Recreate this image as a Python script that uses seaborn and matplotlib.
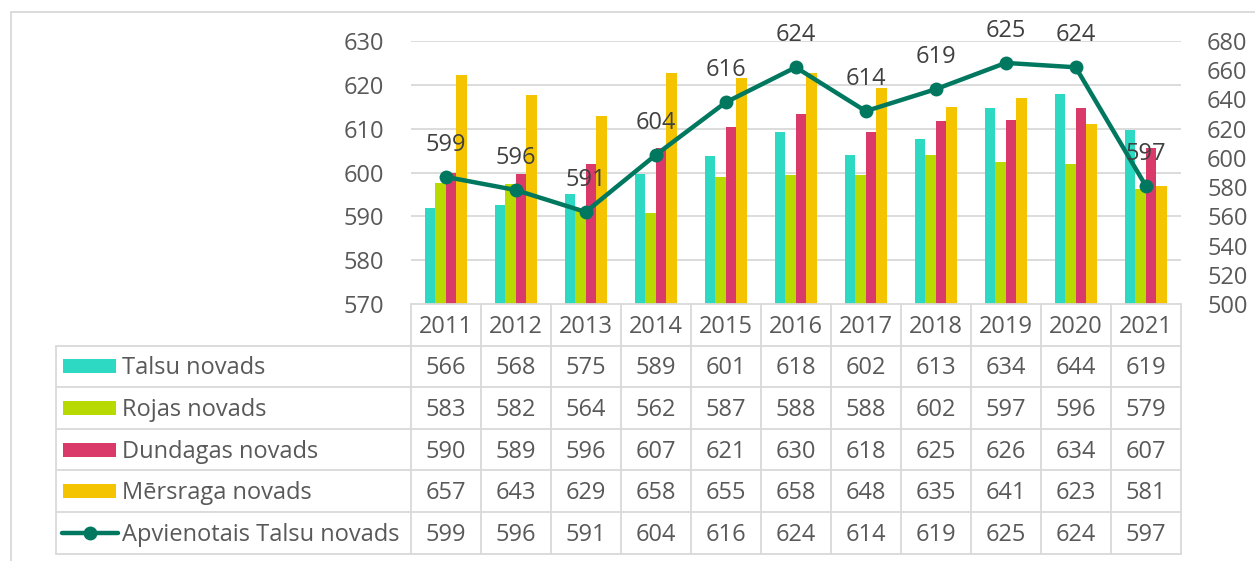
import matplotlib.pyplot as plt
import matplotlib.transforms as mtransforms
from matplotlib.lines import Line2D
from matplotlib.patches import Rectangle
import numpy as np
import pandas as pd
import seaborn as sns

years = ['2011', '2012', '2013', '2014', '2015', '2016', '2017', '2018', '2019', '2020', '2021']
talsu = [566, 568, 575, 589, 601, 618, 602, 613, 634, 644, 619]
rojas = [583, 582, 564, 562, 587, 588, 588, 602, 597, 596, 579]
dundagas = [590, 589, 596, 607, 621, 630, 618, 625, 626, 634, 607]
mersraga = [657, 643, 629, 658, 655, 658, 648, 635, 641, 623, 581]
apvienotais = [599, 596, 591, 604, 616, 624, 614, 619, 625, 624, 597]

bar_names = ['Talsu novads', 'Rojas novads', 'Dundagas novads', 'Mērsraga novads']
line_name = 'Apvienotais Talsu novads'
bar_colors = ['#2ED9C3', '#B8DA00', '#DA3A6A', '#F5C400']
line_color = '#007860'
grid_color = '#D9D9D9'
text_color = '#595959'

sns.set_style('white')
plt.rcParams['font.family'] = ['Open Sans', 'DejaVu Sans']
plt.rcParams['font.size'] = 17

df = pd.DataFrame({
    'year': years * 4,
    'value': talsu + rojas + dundagas + mersraga,
    'region': np.repeat(bar_names, len(years)),
})

fig = plt.figure(figsize=(12.55, 5.61), dpi=100)
ax = fig.add_axes([410.7 / 1255, 1 - 304 / 561, 770 / 1255, 263 / 561])
ax.patch.set_visible(False)

# bars live on the right-hand axis (500..680)
sns.barplot(data=df, x='year', y='value', hue='region', palette=bar_colors,
            width=0.6, saturation=1, linewidth=0, legend=False, ax=ax)
ax.set_xlim(-0.5, len(years) - 0.5)
ax.set_ylim(500, 680)
ax.set_yticks(range(500, 681, 20))
ax.set_xlabel('')
ax.set_ylabel('')
ax.set_xticks([])

# line lives on the left-hand axis (570..630), drawn on top of the bars
ax2 = ax.twinx()
xpos = np.arange(len(years))
sns.lineplot(x=xpos, y=apvienotais, ax=ax2, color=line_color, linewidth=3.2,
             marker='o', markersize=10, markeredgewidth=0)
ax2.set_ylim(570, 630)
ax2.set_yticks(range(570, 631, 10))
ax2.set_ylabel('')
# swap sides: twinx puts the first axis on the left
ax.yaxis.tick_right()
ax2.yaxis.tick_left()

for a in (ax, ax2):
    a.tick_params(axis='y', length=0, pad=19, labelcolor=text_color, labelsize=17)
    for s in a.spines.values():
        s.set_visible(False)

# gridlines follow the left axis but sit behind the bars
gtrans = mtransforms.blended_transform_factory(ax.transAxes, ax2.transData)
for t in range(580, 631, 10):
    ax.plot([0, 1], [t, t], transform=gtrans, color=grid_color, lw=1.3, zorder=0.5)

# value labels above the line points
for x, v in zip(xpos, apvienotais):
    ax2.annotate(str(v), (x, v), xytext=(0, 23), textcoords='offset points',
                 ha='center', va='center', color='#404040', fontsize=17)

# data table under the plot
h = 41.6 / 263
left = (56 - 410.7) / 770
n_rows = 5
bottom = -h * (n_rows + 1)
nudge = 2 / 263
tx = mtransforms.blended_transform_factory(ax.transData, ax.transAxes)
ta = ax2.transAxes
lkw = dict(color=grid_color, lw=1.3, clip_on=False)

ax2.plot([0, 1], [0, 0], transform=ta, **lkw)
for r in range(1, n_rows + 2):
    ax2.plot([left, 1], [-h * r, -h * r], transform=ta, **lkw)
for i in range(len(years) + 1):
    ax2.plot([i - 0.5, i - 0.5], [0, bottom], transform=tx, **lkw)
ax2.plot([left, left], [-h, bottom], transform=ta, **lkw)

for i, y in enumerate(years):
    ax2.text(i, -h / 2 - nudge, y, transform=tx, ha='center', va='center',
             color=text_color, fontsize=17, clip_on=False)

rows = [talsu, rojas, dundagas, mersraga, apvienotais]
names = bar_names + [line_name]
for r, (name, vals) in enumerate(zip(names, rows)):
    yc = -h * (r + 1.5)
    for i, v in enumerate(vals):
        ax2.text(i, yc - nudge, str(v), transform=tx, ha='center', va='center',
                 color=text_color, fontsize=17, clip_on=False)
    ax2.text((122 - 410.7) / 770, yc - nudge, name, transform=ta, ha='left', va='center',
             color=text_color, fontsize=17, clip_on=False)
    kx0 = (63 - 410.7) / 770
    kw = 53 / 770
    if r < 4:
        ax2.add_patch(Rectangle((kx0, yc - 7 / 263), kw, 14 / 263, transform=ta,
                                facecolor=bar_colors[r], edgecolor='none', clip_on=False))
    else:
        ax2.plot([kx0 - 1 / 770, kx0 + kw + 2 / 770], [yc, yc], transform=ta,
                 color=line_color, lw=3.2, clip_on=False)
        ax2.plot([kx0 + kw / 2], [yc], transform=ta, marker='o', markersize=10,
                 color=line_color, markeredgewidth=0, clip_on=False)

# light outer frame
fy = 1 - 11.5 / 561
fx = 11.5 / 1255
fig.add_artist(Line2D([fx, fx], [0, fy], color=grid_color, lw=1.3))
fig.add_artist(Line2D([fx, 1], [fy, fy], color=grid_color, lw=1.3))

fig.savefig('out.png', dpi=100)
